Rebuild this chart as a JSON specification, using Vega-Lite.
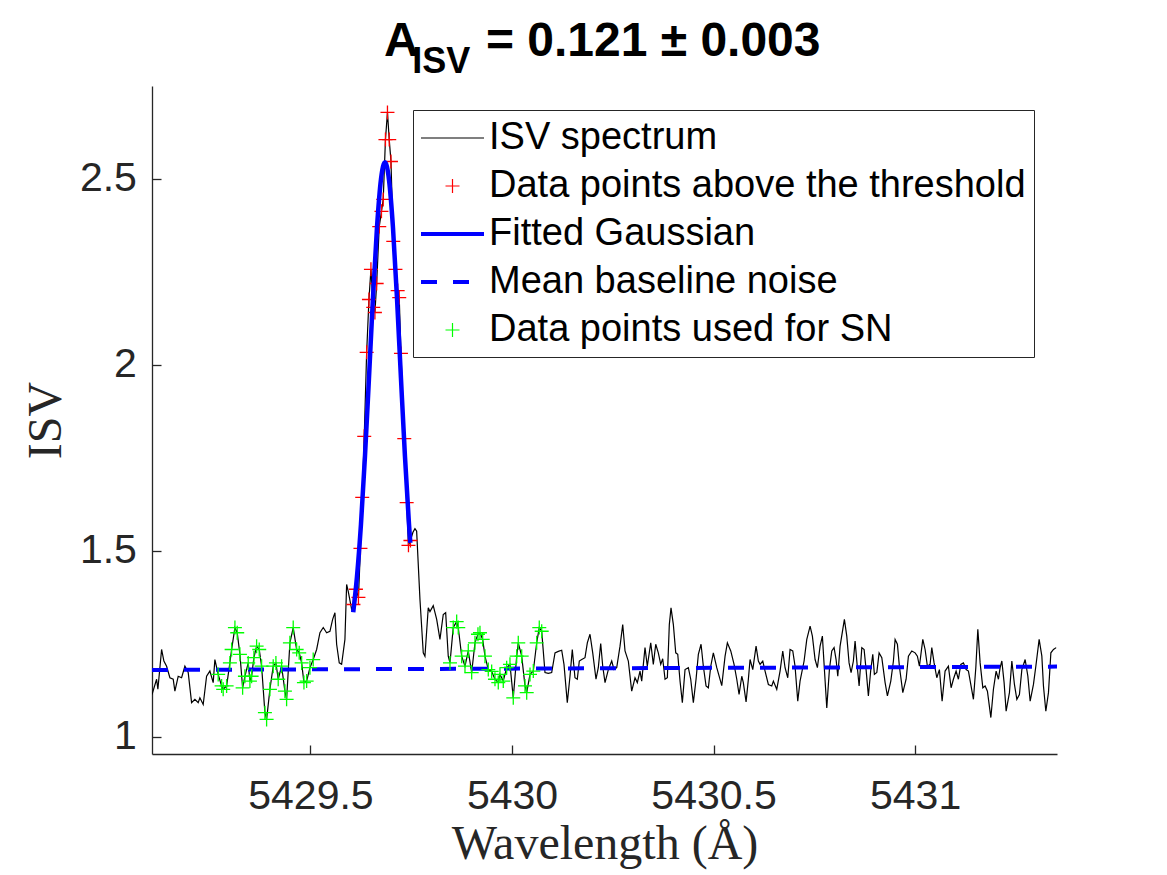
{
  "$schema": "https://vega.github.io/schema/vega-lite/v6.json",
  "width": 905,
  "height": 668,
  "autosize": {"type": "none"},
  "padding": {"left": 152, "top": 86, "right": 110, "bottom": 121},
  "background": "white",
  "config": {"view": {"stroke": null}, "font": "Liberation Sans"},
  "title": {
    "text": "A\u2003\u2009\u2009= 0.121 ± 0.003",
    "subtitle": "\u200b\u2002\u2009\u200aISV",
    "anchor": "start",
    "frame": "group",
    "dx": 232,
    "offset": 6,
    "font": "Liberation Sans",
    "fontSize": 48,
    "fontWeight": "bold",
    "color": "black",
    "subtitleFont": "Liberation Sans",
    "subtitleFontSize": 36,
    "subtitleFontWeight": "bold",
    "subtitleColor": "black",
    "subtitlePadding": -21
  },
  "datasets": {
    "spec": [
      {"w":5429.107,"v":1.114},{"w":5429.1184,"v":1.155},{"w":5429.1216,"v":1.128},{"w":5429.1308,"v":1.235},
      {"w":5429.1365,"v":1.204},{"w":5429.1432,"v":1.190},{"w":5429.1514,"v":1.159},{"w":5429.1596,"v":1.155},
      {"w":5429.1638,"v":1.123},{"w":5429.1720,"v":1.163},{"w":5429.1804,"v":1.159},{"w":5429.1886,"v":1.190},
      {"w":5429.1968,"v":1.173},{"w":5429.2052,"v":1.092},{"w":5429.2134,"v":1.101},{"w":5429.2216,"v":1.092},
      {"w":5429.2258,"v":1.105},{"w":5429.2340,"v":1.087},{"w":5429.2424,"v":1.163},{"w":5429.2506,"v":1.177},
      {"w":5429.2588,"v":1.146},{"w":5429.2630,"v":1.208},
      {"w":5429.2712,"v":1.168,"s":"sn"},{"w":5429.2797,"v":1.137,"s":"sn"},{"w":5429.2836,"v":1.128,"s":"sn"},
      {"w":5429.2921,"v":1.137,"s":"sn"},{"w":5429.3002,"v":1.199,"s":"sn"},{"w":5429.3045,"v":1.235,"s":"sn"},
      {"w":5429.3127,"v":1.294,"s":"sn"},{"w":5429.3184,"v":1.280,"s":"sn"},{"w":5429.3251,"v":1.222,"s":"sn"},
      {"w":5429.3318,"v":1.132,"s":"sn"},{"w":5429.3375,"v":1.163,"s":"sn"},{"w":5429.3457,"v":1.199,"s":"sn"},
      {"w":5429.3499,"v":1.150,"s":"sn"},{"w":5429.3541,"v":1.163,"s":"sn"},{"w":5429.3598,"v":1.213,"s":"sn"},
      {"w":5429.3665,"v":1.244,"s":"sn"},{"w":5429.3730,"v":1.235,"s":"sn"},{"w":5429.3789,"v":1.190,"s":"sn"},
      {"w":5429.3871,"v":1.065,"s":"sn"},{"w":5429.3913,"v":1.047,"s":"sn"},{"w":5429.3995,"v":1.128,"s":"sn"},
      {"w":5429.4077,"v":1.190,"s":"sn"},{"w":5429.4144,"v":1.199,"s":"sn"},{"w":5429.4201,"v":1.155,"s":"sn"},
      {"w":5429.4285,"v":1.190,"s":"sn"},{"w":5429.4367,"v":1.123,"s":"sn"},{"w":5429.4409,"v":1.101,"s":"sn"},
      {"w":5429.4491,"v":1.253,"s":"sn"},{"w":5429.4573,"v":1.294,"s":"sn"},{"w":5429.4658,"v":1.235,"s":"sn"},
      {"w":5429.4722,"v":1.226,"s":"sn"},{"w":5429.4782,"v":1.199,"s":"sn"},{"w":5429.4839,"v":1.146,"s":"sn"},
      {"w":5429.4906,"v":1.150,"s":"sn"},{"w":5429.4988,"v":1.186,"s":"sn"},{"w":5429.5069,"v":1.208,"s":"sn"},
      {"w":5429.5154,"v":1.235},{"w":5429.5236,"v":1.280},{"w":5429.5318,"v":1.294},{"w":5429.5402,"v":1.280},
      {"w":5429.5484,"v":1.284},{"w":5429.5551,"v":1.316},{"w":5429.5608,"v":1.334},{"w":5429.5650,"v":1.249},
      {"w":5429.5715,"v":1.199},{"w":5429.5774,"v":1.195},{"w":5429.5856,"v":1.262},{"w":5429.5898,"v":1.410},
      {"w":5429.5938,"v":1.391},{"w":5429.6022,"v":1.343},
      {"w":5429.6067,"v":1.356,"s":"thr"},{"w":5429.6129,"v":1.397,"s":"thr"},{"w":5429.6191,"v":1.375,"s":"thr"},
      {"w":5429.6241,"v":1.507,"s":"thr"},{"w":5429.6285,"v":1.644,"s":"thr"},{"w":5429.6335,"v":1.808,"s":"thr"},
      {"w":5429.6395,"v":2.034,"s":"thr"},{"w":5429.6452,"v":2.176,"s":"thr"},{"w":5429.6501,"v":2.257,"s":"thr"},
      {"w":5429.6558,"v":2.155,"s":"thr"},{"w":5429.6600,"v":2.141,"s":"thr"},{"w":5429.6643,"v":2.219,"s":"thr"},
      {"w":5429.6707,"v":2.372,"s":"thr"},{"w":5429.6762,"v":2.413,"s":"thr"},{"w":5429.6806,"v":2.445,"s":"thr"},
      {"w":5429.6861,"v":2.606,"s":"thr"},{"w":5429.6911,"v":2.679,"s":"thr"},{"w":5429.6955,"v":2.606,"s":"thr"},
      {"w":5429.6998,"v":2.547,"s":"thr"},{"w":5429.7055,"v":2.332,"s":"thr"},{"w":5429.7109,"v":2.257,"s":"thr"},
      {"w":5429.7164,"v":2.200,"s":"thr"},{"w":5429.7203,"v":2.181,"s":"thr"},{"w":5429.7246,"v":2.031,"s":"thr"},
      {"w":5429.7328,"v":1.802,"s":"thr"},{"w":5429.7387,"v":1.630,"s":"thr"},{"w":5429.7432,"v":1.515,"s":"thr"},
      {"w":5429.7481,"v":1.528,"s":"thr"},
      {"w":5429.7543,"v":1.550},{"w":5429.7593,"v":1.560},{"w":5429.7635,"v":1.553},{"w":5429.7717,"v":1.370},
      {"w":5429.7799,"v":1.226},{"w":5429.7841,"v":1.217},{"w":5429.7923,"v":1.347},{"w":5429.7965,"v":1.337},
      {"w":5429.8047,"v":1.353},{"w":5429.8132,"v":1.316},{"w":5429.8213,"v":1.262},{"w":5429.8295,"v":1.329},
      {"w":5429.8355,"v":1.334},{"w":5429.8419,"v":1.217},
      {"w":5429.8462,"v":1.199,"s":"sn"},{"w":5429.8543,"v":1.294,"s":"sn"},{"w":5429.8628,"v":1.310,"s":"sn"},
      {"w":5429.8667,"v":1.294,"s":"sn"},{"w":5429.8752,"v":1.217,"s":"sn"},{"w":5429.8834,"v":1.190,"s":"sn"},
      {"w":5429.8916,"v":1.231,"s":"sn"},{"w":5429.9000,"v":1.173,"s":"sn"},{"w":5429.9082,"v":1.253,"s":"sn"},
      {"w":5429.9156,"v":1.276,"s":"sn"},{"w":5429.9206,"v":1.280,"s":"sn"},{"w":5429.9273,"v":1.262,"s":"sn"},
      {"w":5429.9330,"v":1.217,"s":"sn"},{"w":5429.9412,"v":1.181,"s":"sn"},{"w":5429.9496,"v":1.176,"s":"sn"},
      {"w":5429.9578,"v":1.155,"s":"sn"},{"w":5429.9660,"v":1.146,"s":"sn"},{"w":5429.9702,"v":1.168,"s":"sn"},
      {"w":5429.9784,"v":1.150,"s":"sn"},{"w":5429.9868,"v":1.186,"s":"sn"},{"w":5429.9950,"v":1.195,"s":"sn"},
      {"w":5430.0032,"v":1.105,"s":"sn"},{"w":5430.0117,"v":1.217,"s":"sn"},{"w":5430.0156,"v":1.253,"s":"sn"},
      {"w":5430.0241,"v":1.217,"s":"sn"},{"w":5430.0323,"v":1.137,"s":"sn"},{"w":5430.0365,"v":1.119,"s":"sn"},
      {"w":5430.0447,"v":1.168,"s":"sn"},{"w":5430.0529,"v":1.177,"s":"sn"},{"w":5430.0613,"v":1.253,"s":"sn"},
      {"w":5430.0677,"v":1.294,"s":"sn"},{"w":5430.0737,"v":1.284,"s":"sn"},
      {"w":5430.0819,"v":1.173},{"w":5430.0901,"v":1.171},{"w":5430.0985,"v":1.173},{"w":5430.1067,"v":1.226},
      {"w":5430.1149,"v":1.230},{"w":5430.1233,"v":1.233},{"w":5430.1290,"v":1.195},{"w":5430.1372,"v":1.092},
      {"w":5430.1439,"v":1.163},{"w":5430.1496,"v":1.235},{"w":5430.1563,"v":1.159},{"w":5430.1620,"v":1.155},
      {"w":5430.1670,"v":1.204},{"w":5430.1730,"v":1.208},{"w":5430.1811,"v":1.213},{"w":5430.1869,"v":1.253},
      {"w":5430.1935,"v":1.276},{"w":5430.2003,"v":1.226},{"w":5430.2084,"v":1.155},{"w":5430.2141,"v":1.186},
      {"w":5430.2201,"v":1.251},{"w":5430.2251,"v":1.190},{"w":5430.2308,"v":1.146},{"w":5430.2390,"v":1.181},
      {"w":5430.2474,"v":1.204},{"w":5430.2531,"v":1.181},{"w":5430.2598,"v":1.186},{"w":5430.2680,"v":1.244},
      {"w":5430.2747,"v":1.302},{"w":5430.2804,"v":1.231},{"w":5430.2886,"v":1.204},{"w":5430.2970,"v":1.123},
      {"w":5430.3052,"v":1.159},{"w":5430.3109,"v":1.146},{"w":5430.3176,"v":1.177},{"w":5430.3218,"v":1.150},
      {"w":5430.3300,"v":1.240},{"w":5430.3357,"v":1.190},{"w":5430.3442,"v":1.253},{"w":5430.3506,"v":1.195},
      {"w":5430.3566,"v":1.249},{"w":5430.3630,"v":1.226},{"w":5430.3690,"v":1.195},{"w":5430.3739,"v":1.210},
      {"w":5430.3797,"v":1.155},{"w":5430.3854,"v":1.159},{"w":5430.3903,"v":1.302},{"w":5430.3945,"v":1.347},
      {"w":5430.4003,"v":1.302},{"w":5430.4062,"v":1.226},{"w":5430.4112,"v":1.222},{"w":5430.4169,"v":1.150},
      {"w":5430.4226,"v":1.092},{"w":5430.4293,"v":1.181},{"w":5430.4375,"v":1.186},{"w":5430.4434,"v":1.155},
      {"w":5430.4499,"v":1.092},{"w":5430.4566,"v":1.155},{"w":5430.4623,"v":1.222},{"w":5430.4690,"v":1.249},
      {"w":5430.4747,"v":1.190},{"w":5430.4814,"v":1.137},{"w":5430.4871,"v":1.132},{"w":5430.4931,"v":1.190},
      {"w":5430.4995,"v":1.226},{"w":5430.5080,"v":1.186},{"w":5430.5204,"v":1.138},{"w":5430.5286,"v":1.217},
      {"w":5430.5343,"v":1.253},{"w":5430.5427,"v":1.231},{"w":5430.5509,"v":1.195},{"w":5430.5576,"v":1.155},
      {"w":5430.5633,"v":1.114},{"w":5430.5700,"v":1.163},{"w":5430.5739,"v":1.146},{"w":5430.5807,"v":1.094},
      {"w":5430.5864,"v":1.155},{"w":5430.5906,"v":1.208},{"w":5430.5973,"v":1.181},{"w":5430.6055,"v":1.244},
      {"w":5430.6112,"v":1.204},{"w":5430.6154,"v":1.195},{"w":5430.6221,"v":1.204},{"w":5430.6278,"v":1.177},
      {"w":5430.6360,"v":1.141},{"w":5430.6444,"v":1.137},{"w":5430.6484,"v":1.150},{"w":5430.6568,"v":1.128},
      {"w":5430.6650,"v":1.177},{"w":5430.6717,"v":1.231},{"w":5430.6774,"v":1.186},{"w":5430.6841,"v":1.159},
      {"w":5430.6898,"v":1.235},{"w":5430.6965,"v":1.231},{"w":5430.7022,"v":1.190},{"w":5430.7089,"v":1.096},
      {"w":5430.7146,"v":1.150},{"w":5430.7246,"v":1.204},{"w":5430.7313,"v":1.262},{"w":5430.7395,"v":1.298},
      {"w":5430.7452,"v":1.271},{"w":5430.7519,"v":1.208},{"w":5430.7576,"v":1.186},{"w":5430.7643,"v":1.244},
      {"w":5430.7700,"v":1.271},{"w":5430.7750,"v":1.181},{"w":5430.7809,"v":1.078},{"w":5430.7874,"v":1.181},
      {"w":5430.7933,"v":1.231},{"w":5430.7990,"v":1.240},{"w":5430.8040,"v":1.208},{"w":5430.8082,"v":1.163},
      {"w":5430.8139,"v":1.244},{"w":5430.8206,"v":1.289},{"w":5430.8246,"v":1.316},{"w":5430.8305,"v":1.271},
      {"w":5430.8362,"v":1.199},{"w":5430.8412,"v":1.173},{"w":5430.8469,"v":1.204},{"w":5430.8511,"v":1.258},
      {"w":5430.8568,"v":1.186},{"w":5430.8611,"v":1.137},{"w":5430.8678,"v":1.240},{"w":5430.8735,"v":1.235},
      {"w":5430.8784,"v":1.181},{"w":5430.8841,"v":1.110},{"w":5430.8901,"v":1.181},{"w":5430.8950,"v":1.222},
      {"w":5430.8990,"v":1.168},{"w":5430.9050,"v":1.173},{"w":5430.9107,"v":1.226},{"w":5430.9174,"v":1.213},
      {"w":5430.9256,"v":1.146},{"w":5430.9313,"v":1.110},{"w":5430.9397,"v":1.150},{"w":5430.9462,"v":1.204},
      {"w":5430.9504,"v":1.262},{"w":5430.9561,"v":1.249},{"w":5430.9610,"v":1.190},{"w":5430.9695,"v":1.119},
      {"w":5430.9777,"v":1.155},{"w":5430.9834,"v":1.217},{"w":5430.9918,"v":1.231},{"w":5431.0000,"v":1.226},
      {"w":5431.0057,"v":1.217},{"w":5431.0107,"v":1.190},{"w":5431.0191,"v":1.262},{"w":5431.0248,"v":1.235},
      {"w":5431.0305,"v":1.190},{"w":5431.0372,"v":1.195},{"w":5431.0414,"v":1.240},{"w":5431.0471,"v":1.199},
      {"w":5431.0538,"v":1.159},{"w":5431.0603,"v":1.181},{"w":5431.0670,"v":1.096},{"w":5431.0744,"v":1.177},
      {"w":5431.0826,"v":1.190},{"w":5431.0893,"v":1.132},{"w":5431.0950,"v":1.155},{"w":5431.1017,"v":1.177},
      {"w":5431.1074,"v":1.155},{"w":5431.1134,"v":1.195},{"w":5431.1198,"v":1.199},{"w":5431.1266,"v":1.181},
      {"w":5431.1323,"v":1.177},{"w":5431.1447,"v":1.101},{"w":5431.1506,"v":1.186},{"w":5431.1556,"v":1.289},
      {"w":5431.1613,"v":1.199},{"w":5431.1680,"v":1.132},{"w":5431.1737,"v":1.137},{"w":5431.1794,"v":1.123},
      {"w":5431.1879,"v":1.052},{"w":5431.1943,"v":1.128},{"w":5431.2010,"v":1.177},{"w":5431.2067,"v":1.155},
      {"w":5431.2109,"v":1.186},{"w":5431.2152,"v":1.204},{"w":5431.2208,"v":1.146},{"w":5431.2258,"v":1.069},
      {"w":5431.2340,"v":1.119},{"w":5431.2400,"v":1.204},{"w":5431.2464,"v":1.141},{"w":5431.2524,"v":1.101},
      {"w":5431.2588,"v":1.114},{"w":5431.2648,"v":1.181},{"w":5431.2730,"v":1.208},{"w":5431.2797,"v":1.163},
      {"w":5431.2854,"v":1.096},{"w":5431.2936,"v":1.141},{"w":5431.2995,"v":1.190},{"w":5431.3077,"v":1.262},
      {"w":5431.3144,"v":1.217},{"w":5431.3184,"v":1.137},{"w":5431.3243,"v":1.069},{"w":5431.3308,"v":1.119},
      {"w":5431.3368,"v":1.226},{"w":5431.3432,"v":1.235},{"w":5431.3499,"v":1.240}
    ],
    "gauss": [
      {"w":5429.6062,"v":1.335},{"w":5429.6154,"v":1.430},{"w":5429.6254,"v":1.572},{"w":5429.6353,"v":1.754},
      {"w":5429.6452,"v":1.964},{"w":5429.6551,"v":2.180},{"w":5429.6651,"v":2.369},{"w":5429.6750,"v":2.499},
      {"w":5429.6849,"v":2.545},{"w":5429.6948,"v":2.499},{"w":5429.7048,"v":2.369},{"w":5429.7147,"v":2.180},
      {"w":5429.7246,"v":1.964},{"w":5429.7345,"v":1.754},{"w":5429.7445,"v":1.572},{"w":5429.7477,"v":1.522}
    ],
    "base": [{"w":5429.107,"v":1.180},{"w":5431.352,"v":1.189}],
    "legend": [
      {"s":"ISV spectrum"},
      {"s":"Data points above the threshold"},
      {"s":"Fitted Gaussian"},
      {"s":"Mean baseline noise"},
      {"s":"Data points used for SN"}
    ]
  },
  "layer": [
    {
      "data": {"name": "spec"},
      "mark": {"type": "line", "color": "black", "strokeWidth": 1.2, "clip": true},
      "encoding": {
        "x": {
          "field": "w", "type": "quantitative",
          "scale": {"domain": [5429.107, 5431.352], "nice": false, "zero": false},
          "axis": {
            "title": "Wavelength (Å)",
            "values": [5429.5, 5430, 5430.5, 5431],
            "format": "~f",
            "grid": false,
            "domainColor": "#262626", "domainWidth": 1.3,
            "tickColor": "#262626", "tickWidth": 1.3, "tickSize": -9,
            "labelFont": "Liberation Sans", "labelFontSize": 41, "labelColor": "#262626",
            "labelPadding": 31, "labelFlush": false, "labelOverlap": false,
            "titleFont": "Liberation Serif", "titleFontSize": 48, "titleFontWeight": "normal",
            "titleColor": "#262626", "titleBaseline": "alphabetic", "titleY": 104
          }
        },
        "y": {
          "field": "v", "type": "quantitative",
          "scale": {"domain": [0.954, 2.75], "nice": false, "zero": false},
          "axis": {
            "title": "ISV",
            "values": [1, 1.5, 2, 2.5],
            "format": "~f",
            "grid": false,
            "domainColor": "#262626", "domainWidth": 1.3,
            "tickColor": "#262626", "tickWidth": 1.3, "tickSize": -9,
            "labelFont": "Liberation Sans", "labelFontSize": 41, "labelColor": "#262626",
            "labelPadding": 24.6, "labelOverlap": false,
            "titleFont": "Liberation Serif", "titleFontSize": 48, "titleFontWeight": "normal",
            "titleColor": "#262626", "titleBaseline": "alphabetic", "titleX": -92
          }
        }
      }
    },
    {
      "data": {"name": "spec"},
      "transform": [{"filter": "datum.s === 'thr'"}],
      "mark": {"type": "point", "shape": "M-1,0H1M0,-1V1", "filled": false, "color": "#ff0000", "strokeWidth": 1.3, "size": 196, "opacity": 1},
      "encoding": {
        "x": {"field": "w", "type": "quantitative"},
        "y": {"field": "v", "type": "quantitative"}
      }
    },
    {
      "data": {"name": "gauss"},
      "mark": {"type": "line", "color": "#0000ff", "strokeWidth": 4.5, "interpolate": "monotone"},
      "encoding": {
        "x": {"field": "w", "type": "quantitative"},
        "y": {"field": "v", "type": "quantitative"}
      }
    },
    {
      "data": {"name": "base"},
      "mark": {"type": "line", "color": "#0000ff", "strokeWidth": 4, "strokeDash": [16, 16]},
      "encoding": {
        "x": {"field": "w", "type": "quantitative"},
        "y": {"field": "v", "type": "quantitative"}
      }
    },
    {
      "data": {"name": "spec"},
      "transform": [{"filter": "datum.s === 'sn'"}],
      "mark": {"type": "point", "shape": "M-1,0H1M0,-1V1", "filled": false, "color": "#00ff00", "strokeWidth": 1.3, "size": 196, "opacity": 1},
      "encoding": {
        "x": {"field": "w", "type": "quantitative"},
        "y": {"field": "v", "type": "quantitative"}
      }
    },
    {
      "data": {"name": "legend"},
      "mark": {"type": "point", "filled": true, "opacity": 0},
      "encoding": {
        "color": {
          "field": "s", "type": "nominal",
          "scale": {
            "domain": ["ISV spectrum", "Data points above the threshold", "Fitted Gaussian", "Mean baseline noise", "Data points used for SN"],
            "range": ["#000000", "#ff0000", "#0000ff", "#0000ff", "#00ff00"]
          },
          "legend": {
            "title": null, "orient": "none", "legendX": 261, "legendY": 24,
            "padding": 8, "strokeColor": "#262626", "fillColor": "white",
            "labelFont": "Liberation Sans", "labelFontSize": 38, "labelColor": "black",
            "labelOffset": 28, "labelLimit": 0, "rowPadding": 9,
            "symbolSize": 1600, "symbolOpacity": 1, "symbolStrokeWidth": 0
          }
        },
        "shape": {
          "field": "s", "type": "nominal",
          "scale": {
            "domain": ["ISV spectrum", "Data points above the threshold", "Fitted Gaussian", "Mean baseline noise", "Data points used for SN"],
            "range": [
              "M-1,-0.03H2.15V0.03H-1Z",
              "M0.225,-0.03H0.925V0.03H0.225ZM0.545,-0.35H0.605V0.35H0.545Z",
              "M-1,-0.1H2.15V0.1H-1Z",
              "M-1,-0.1H-0.2V0.1H-1ZM0.6,-0.1H1.4V0.1H0.6Z",
              "M0.225,-0.03H0.925V0.03H0.225ZM0.545,-0.35H0.605V0.35H0.545Z"
            ]
          },
          "legend": {
            "title": null, "orient": "none", "legendX": 261, "legendY": 24,
            "padding": 8, "strokeColor": "#262626", "fillColor": "white",
            "labelFont": "Liberation Sans", "labelFontSize": 38, "labelColor": "black",
            "labelOffset": 28, "labelLimit": 0, "rowPadding": 9,
            "symbolSize": 1600, "symbolOpacity": 1, "symbolStrokeWidth": 0
          }
        }
      }
    }
  ]
}
